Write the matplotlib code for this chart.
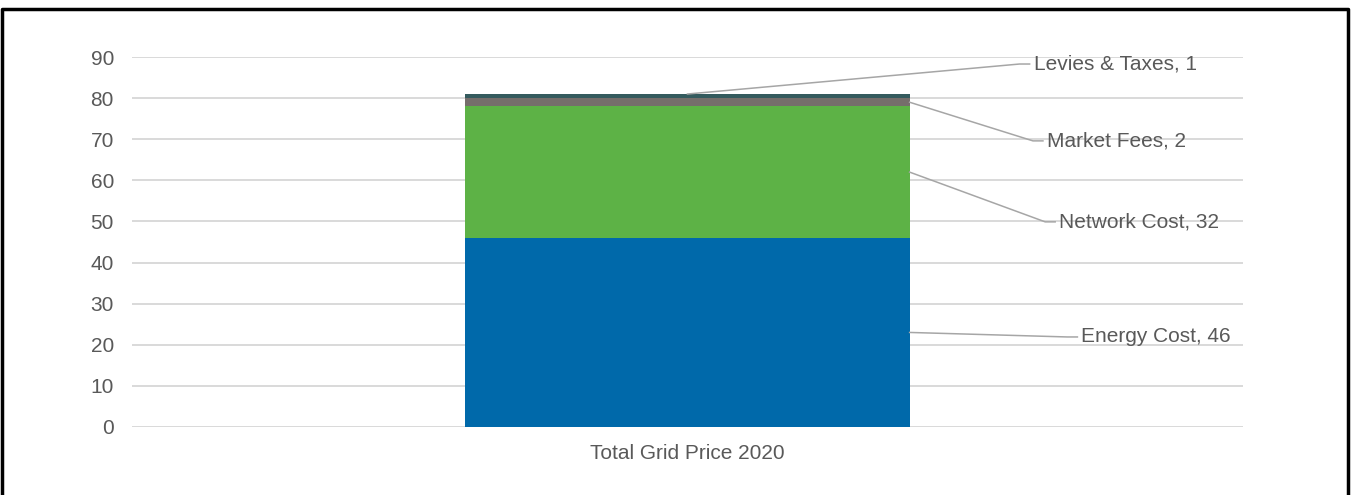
import matplotlib.pyplot as plt
from matplotlib.lines import Line2D

plt.rcParams['font.family'] = ['Liberation Sans', 'DejaVu Sans']

category = 'Total Grid Price 2020'
components = ['Energy Cost', 'Network Cost', 'Market Fees', 'Levies & Taxes']
values = [46, 32, 2, 1]
colors = ['#0069AA', '#5DB246', '#756E6B', '#345B5E']

# where each leader line bends before its label (data coords)
label_elbows = [(0.342, 21.9), (0.322, 49.9), (0.311, 69.6), (0.299, 88.3)]

text_color = '#595959'
bar_width = 0.4

fig = plt.figure(figsize=(13.51, 4.95), dpi=100)
ax = fig.add_axes([0.0977, 0.1374, 0.8223, 0.7474])

bottom = 0
for name, val, col, (ex, ey) in zip(components, values, colors, label_elbows):
    ax.bar(0, val, width=bar_width, bottom=bottom, color=col, zorder=3)
    mid = bottom + val / 2
    # the small top slice gets its leader from the bar centre, the rest from the right edge
    ax_x = 0.0 if name == 'Levies & Taxes' else bar_width / 2
    ay = bottom + val if name == 'Levies & Taxes' else mid
    ax.plot([ax_x, ex, ex + 0.009], [ay, ey, ey], color='#A6A6A6', lw=1.1,
            zorder=4, clip_on=False)
    ax.text(ex + 0.0125, ey, f'{name}, {val}', ha='left', va='center',
            fontsize=15, color=text_color, zorder=5)
    bottom += val

ax.set_xlim(-0.5, 0.5)
ax.set_ylim(0, 90)
ax.set_yticks(range(0, 91, 10))
ax.set_xticks([0])
ax.set_xticklabels([category])
ax.yaxis.grid(True, color='#D9D9D9', lw=1.4, zorder=0)
ax.tick_params(axis='both', length=0, labelsize=15, labelcolor=text_color)
ax.tick_params(axis='y', pad=13)
ax.tick_params(axis='x', pad=12)
for s in ax.spines.values():
    s.set_visible(False)

# outer frame around the chart area
fw, fh = 1351, 495
frame = [(2 / fw, 0), (2 / fw, 1 - 9 / fh), (1348 / fw, 1 - 9 / fh), (1348 / fw, 0)]
fig.add_artist(Line2D([p[0] for p in frame], [p[1] for p in frame],
                      color='black', lw=2.5, transform=fig.transFigure))

fig.savefig('out.png', dpi=100)
